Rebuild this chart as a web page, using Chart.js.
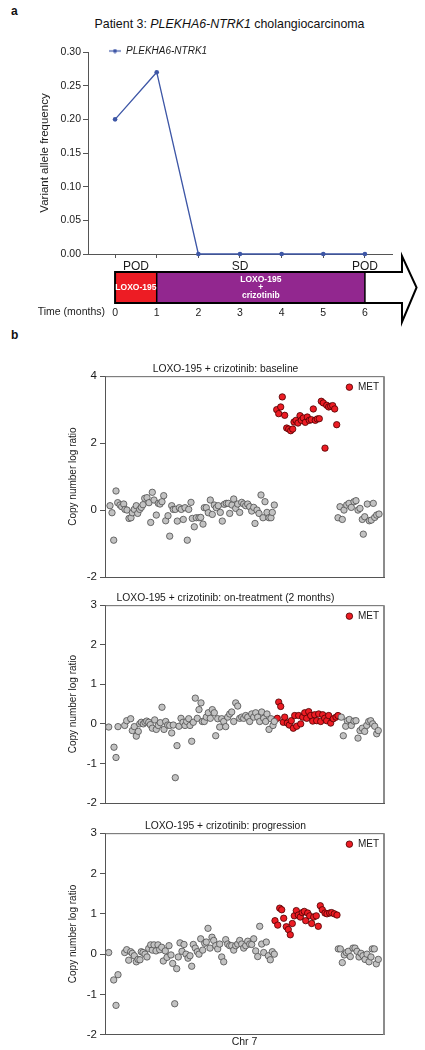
<!DOCTYPE html>
<html><head><meta charset="utf-8">
<script src="https://cdn.jsdelivr.net/npm/chart.js@4.4.1/dist/chart.umd.min.js"></script>
<style>
html,body{margin:0;padding:0;background:#fff;}
body{width:425px;height:1050px;position:relative;overflow:hidden;font-family:'Liberation Sans',Arial,sans-serif;}
canvas{position:absolute;left:0;}
.lbl{position:absolute;white-space:nowrap;color:#111;}
</style></head><body>
<div class="lbl" style="left:11px;top:4.8px;font:bold 12px/12px 'Liberation Sans',Arial,sans-serif;">a</div>
<div class="lbl" style="left:229.5px;top:17.5px;transform:translateX(-50%);font:12.4px/12.4px 'Liberation Sans',Arial,sans-serif;">Patient 3: <i>PLEKHA6-NTRK1</i> cholangiocarcinoma</div>
<div class="lbl" style="left:11px;top:329px;font:bold 12px/12px 'Liberation Sans',Arial,sans-serif;">b</div>
<canvas id="cA" width="425" height="330" style="top:0px"></canvas>
<canvas id="cB1" width="425" height="232" style="top:355px"></canvas>
<canvas id="cB2" width="425" height="229" style="top:584px"></canvas>
<canvas id="cB3" width="425" height="238" style="top:812px"></canvas>
<script>
// ---------- Panel a data ----------
const months = [0,1,2,3,4,5,6];
const vafPLEKHA6 = [0.20,0.27,0,0,0,0,0];
const vafTicks = [0,0.05,0.10,0.15,0.20,0.25,0.30];
const responseLabels = ['POD','SD','POD'];
const responseMonths = [0.5,3,6];
const phaseStart = [0,1];
const phaseEnd = [1,6];
const phaseNames = [['LOXO-195'],['LOXO-195','+','crizotinib']];
const phaseColors = ['#ed1c24','#92278f'];

// ---------- Panel b data (position along chr 7, copy number log ratio) ----------
const blGrayX = [5,7,8.7,11,12.7,15,16.7,18.7,20,22,24,26,27.3,29.3,31.3,32.7,34.7,36.3,38,39.7,42,44,45.7,47.3,49,51.3,53.3,55,57,58.7,60.7,63,64.7,66.7,68.3,70.3,72.3,74.3,76.3,78.3,80,82.3,83.7,86,87.3,89.3,91.3,94,95.7,98,99.3,101.3,103.3,105.3,107.3,109.3,111.3,113.3,115.3,117.3,119.3,121.3,123.3,124.7,127,128.7,130.7,132.7,134.7,136.7,138.7,140.7,142.7,144.7,146.7,148.7,150,152,154,156,158,160,162,164,166,167.3,169.3,233,235,237.3,239,241.7,244,246.3,249,251,253,255,257.3,258.3,259.7,262.3,264.3,266.3,268.3,269.7,271.7,274];
const blGrayY = [0.13,-0.08,-0.9,0.57,0.22,0.15,0.1,0.18,0.02,0,-0.25,-0.23,-0.08,0.02,0.13,-0.1,0.02,0.08,0.16,0.35,0.37,0.22,-0.37,0.53,0.3,-0.15,0.2,0.18,0.25,0.43,-0.32,-0.17,-0.78,0.13,0.02,0.02,-0.33,0.07,0.02,-0.28,0.07,-0.9,0.02,0.23,-0.25,-0.5,-0.23,-0.23,-0.22,-0.42,0.07,0.07,-0.08,0.3,-0.13,0.15,0.07,0.13,-0.07,-0.33,0.17,0.2,0.2,-0.1,0.15,0.33,0.05,0.18,-0.07,0.23,0.18,0.13,0.18,0.1,-0.03,0.08,-0.4,0,-0.1,0.45,-0.23,0.25,-0.07,-0.23,-0.23,-0.07,0.15,-0.23,0.1,-0.28,0,0.15,0.2,0.08,0.25,0.28,0,0.05,-0.28,-0.72,-0.2,0.18,-0.32,-0.3,0.2,-0.22,-0.15,-0.12];
const blMetX = [171.7,173.7,175.7,177.3,179.7,181.7,183.7,185.7,187.7,189,191,193,195,196.3,198.3,200.3,202.3,204.3,206.3,208.3,210.3,212.3,214.3,216.3,218.3,220,221.7,223.7,225.7,227.7,229.7,231.7];
const blMetY = [3.0,2.88,3.08,3.38,2.83,2.45,2.42,2.37,2.42,2.63,2.68,2.6,2.82,2.68,2.75,2.62,2.78,2.68,2.7,3.02,2.68,2.72,2.73,3.25,3.2,1.85,3.13,3.08,3.1,3.12,3.02,2.55];
const blTicks = [-2,0,2,4];

const otGrayX = [3.7,9,11,13,19.7,21.7,25.7,27.3,29.3,31.3,33.3,34.7,36.3,38.3,40,41.7,43.7,45.3,47.3,49.7,51.3,53.3,55.3,57,59,60.7,62.7,64.7,66.7,68.3,70.3,72,74,76,78,80,81.7,83.7,85,86.7,88.3,90.3,92.3,94,96,97.3,99.3,101.3,103.3,105.3,107.3,109.3,110.7,112.7,114.7,116.7,118.7,120.7,122.7,124.7,126.7,128.7,130.7,132.7,134.7,136.7,138.7,140.7,142.7,144.7,146.7,148.7,150.7,152.7,154.7,156.7,158.7,160.7,162,164,166,168,169.3,236.3,238.3,240.7,242.3,244.3,246.3,249,251,253,255,257.3,259.7,261.7,263.7,265.7,267.7,269.7,271.7,273.3];
const otGrayY = [-0.08,-0.59,-0.85,-0.07,-0.04,0.08,0.13,-0.17,-0.07,-0.31,-0.19,0,0.04,0,0.04,0.07,0.04,-0.02,-0.11,0.1,-0.14,-0.04,0.03,0.42,-0.14,0.06,-0.03,-0.04,-0.23,-0.03,-1.36,-0.55,-0.06,0.14,0.04,-0.04,0.06,0.13,-0.04,-0.44,0.04,0.65,0.14,0.36,0.53,0.06,0.06,0.17,0.28,0.14,0.36,0.28,-0.3,0.13,-0.08,0.13,0.06,-0.07,0.17,0.25,0.3,0.06,0.53,0.45,0.14,0.17,0.14,0.21,0.17,0.06,0.25,0.17,0.28,0.17,0.06,0.3,0.14,0.06,0.25,-0.14,0.13,-0.04,0.06,0.17,-0.3,-0.06,0.08,0.11,-0.04,0.07,0.08,-0.36,-0.17,-0.11,-0.19,-0.04,0.06,0.08,0,-0.06,-0.25,-0.17];
const otMetX = [172.3,173.7,175.7,178.3,179.7,182.3,184.3,186.3,188.3,189.7,191.7,193.7,195.7,197.7,199.7,201.7,203.7,205.7,207.7,209.7,211.7,213.7,215.7,217.7,219.7,221.7,223.7,225.7,228.3,231,233];
const otMetY = [0.14,0.55,0.44,0.04,0.17,0.02,-0.03,0.08,-0.11,0.21,-0.06,0.21,0,0.17,0.28,0.14,0.31,0.21,0.07,0.23,0.08,0.25,0.06,0.23,0.14,0.08,0.21,0.02,0.13,0.17,0.21];
const otTicks = [-2,-1,0,1,2,3];

const prGrayX = [3.7,8.7,11,13,19.7,21.7,23.7,25.7,27.3,29.3,31.3,33,35,36.3,38,40,42,43.7,45.7,47.3,49,51,53,54.7,56.7,58.3,60.3,62,64,66,67.7,69.7,71.7,73.3,75,77,79,81,83,85,86.7,88.3,90.3,92.3,94,95.7,97.7,99.7,101.3,103,105,107,108.7,110.7,112.7,114.7,116.7,118.7,120.7,122.7,124.7,126.7,128.7,130.7,132.7,134.7,136.7,138.7,140.7,142.7,144.7,146.7,148.7,150.7,152.7,154.7,156.7,158.7,161.3,163.3,165.3,167.3,169.3,233.3,235.3,237.3,239.3,241.3,243.3,245.3,248,250,252,254,256,258,260,262,264,266,267.3,269.3,271.3,273.3];
const prGrayY = [0.04,-0.64,-1.27,-0.51,0.04,0.11,-0.15,0.06,0.02,-0.04,-0.19,-0.13,-0.14,0.06,0.04,0,-0.07,0.14,0.23,0.1,0.23,0.08,0.23,0.11,0.17,-0.17,0.08,-0.08,0.21,-0.02,-0.23,-1.23,-0.36,-0.07,0.28,0.07,0.24,0,-0.1,-0.04,-0.3,0.24,0.15,0.06,0,0.38,0.1,0.27,0.3,0.64,0.15,0.42,0.34,0.21,0.13,0.25,-0.07,-0.19,0.36,0.25,0.21,0.21,0.1,0.21,0.25,0.34,0.25,0.15,0.21,0.32,0.25,0.24,0.38,0.08,-0.06,0.69,0.25,0.04,0.3,-0.04,-0.14,0.06,0,0.13,0.13,-0.21,-0.02,0.04,0.07,-0.06,0.15,0.15,0.07,-0.07,0.02,-0.04,-0.13,0,-0.19,-0.07,0.13,0.13,-0.24,-0.13];
const prMetX = [170,172.7,174.7,176.7,178.7,181.3,183.3,185.3,187.3,189.3,191.3,193.3,195.3,197.3,199.3,200.7,202.7,204.7,206.7,208.7,211.3,213.3,215.3,217.3,220,222,224.7,226.7,229.3,232];
const prMetY = [0.83,0.72,1.14,1.1,0.89,0.68,0.61,0.48,0.76,0.95,1.08,0.97,0.92,1.03,1.06,0.83,1.02,0.95,0.76,0.92,0.95,0.69,1.2,1.1,1.02,1.0,1.02,1.03,1.0,0.97];
const prTicks = [-2,-1,0,1,2,3];

// ---------- common ----------
const FONT = "'Liberation Sans', Arial, Helvetica, sans-serif";
Chart.defaults.font.family = FONT;
Chart.defaults.color = '#1a1a1a';
Chart.defaults.animation = false;
const BLUE = '#3d56a6';
const AXIS = '#555';

// place the in-plot legend: anchored to left or right of the chart area
const placeLegend = {
  id: 'placeLegend',
  afterLayout(chart, args, opts) {
    const l = chart.legend; if (!l) return;
    const ca = chart.chartArea;
    const pad = l.options.labels.padding || 0;
    const hb = l.legendHitBoxes && l.legendHitBoxes[0];
    const w = hb ? hb.width : 0;
    let left;
    if (opts.anchor === 'right') left = ca.right - opts.dx - w - pad;
    else left = ca.left + opts.dx - pad;
    const top = ca.top + opts.dy - pad;
    l.left = left; l.right = left + w + 2 * pad + 4;
    l.top = top; l.bottom = top + 40;
  }
};

// timeline under the VAF plot
const timelinePlugin = {
  id: 'timeline',
  afterDraw(chart, args, o) {
    const {ctx} = chart; const bottom = chart.chartArea.bottom; const xs = chart.scales.x;
    const top = bottom + 18, bot = bottom + 49, mid = (top + bot) / 2;
    const headTop = bottom + 2, headBot = bottom + 68;
    const x0 = xs.getPixelForValue(phaseStart[0]);
    const bodyEnd = xs.getPixelForValue(o.bodyEnd), tip = xs.getPixelForValue(o.tip);
    ctx.save();
    phaseStart.forEach((s, i) => {
      const a = xs.getPixelForValue(s), b = xs.getPixelForValue(phaseEnd[i]);
      ctx.fillStyle = phaseColors[i];
      ctx.fillRect(a, top, b - a, bot - top);
    });
    ctx.strokeStyle = '#000'; ctx.lineWidth = 2; ctx.lineJoin = 'miter';
    ctx.beginPath();
    ctx.moveTo(x0, top); ctx.lineTo(bodyEnd, top); ctx.lineTo(bodyEnd, headTop);
    ctx.lineTo(tip, mid); ctx.lineTo(bodyEnd, headBot); ctx.lineTo(bodyEnd, bot);
    ctx.lineTo(x0, bot); ctx.closePath(); ctx.stroke();
    ctx.lineWidth = 1.5;
    phaseEnd.forEach(e => {
      const p = xs.getPixelForValue(e);
      ctx.beginPath(); ctx.moveTo(p, top); ctx.lineTo(p, bot); ctx.stroke();
    });
    // phase labels
    ctx.fillStyle = '#fff'; ctx.textAlign = 'center'; ctx.textBaseline = 'middle';
    ctx.font = 'bold 8.5px ' + FONT;
    phaseNames.forEach((lines, i) => {
      const cx = xs.getPixelForValue((phaseStart[i] + phaseEnd[i]) / 2);
      const step = 8.3, y0 = mid - (lines.length - 1) * step / 2;
      lines.forEach((t, j) => ctx.fillText(t, cx, y0 + j * step));
    });
    // response labels
    ctx.fillStyle = '#1a1a1a'; ctx.textBaseline = 'alphabetic';
    ctx.font = '12px ' + FONT;
    responseLabels.forEach((t, i) => ctx.fillText(t, xs.getPixelForValue(responseMonths[i]), bottom + 16));
    // time label
    ctx.font = '10.5px ' + FONT; ctx.textAlign = 'right';
    ctx.fillText('Time (months)', 105, bottom + 60.5);
    ctx.restore();
  }
};

const lineMark = document.createElement('canvas');
lineMark.width = 12; lineMark.height = 5;
{ const c = lineMark.getContext('2d'); c.strokeStyle = BLUE; c.lineWidth = 1.2; c.beginPath(); c.moveTo(0, 2.5); c.lineTo(12, 2.5); c.stroke(); c.fillStyle = BLUE; c.beginPath(); c.arc(6, 2.5, 2, 0, Math.PI * 2); c.fill(); }

new Chart(document.getElementById('cA'), {
  type: 'line',
  data: { datasets: [{
    label: 'PLEKHA6-NTRK1',
    data: months.map((m, i) => ({x: m, y: vafPLEKHA6[i]})),
    borderColor: BLUE, backgroundColor: BLUE, borderWidth: 1.3,
    pointRadius: 2.3, pointBackgroundColor: BLUE, pointBorderWidth: 0, pointHoverRadius: 2.3,
    tension: 0, clip: false
  }]},
  options: {
    responsive: false, animation: false, events: [],
    layout: { padding: { top: 52, left: 38, right: 33, bottom: 0 } },
    plugins: {
      legend: { position: 'chartArea', align: 'start',
        labels: { usePointStyle: true, pointStyle: lineMark, pointStyleWidth: 12, padding: 0,
          font: { size: 10, style: 'italic' }, color: '#1a1a1a' } },
      placeLegend: { anchor: 'left', dx: 21, dy: -6 },
      tooltip: { enabled: false },
      timeline: { bodyEnd: 6.89, tip: 7.24 }
    },
    scales: {
      x: { type: 'linear', min: -0.65, max: 6.65,
        afterBuildTicks: s => { s.ticks = months.map(v => ({value: v})); },
        afterFit: s => { s.height = 76; },
        grid: { display: true, drawOnChartArea: false, drawTicks: true, tickLength: 4, color: AXIS },
        border: { display: true, color: AXIS, width: 1 },
        ticks: { padding: 48.5, font: { size: 10.5 }, color: '#1a1a1a' } },
      y: { min: 0, max: 0.30,
        afterBuildTicks: s => { s.ticks = vafTicks.map(v => ({value: v})); },
        afterFit: s => { s.width = 50; },
        grid: { drawOnChartArea: false, tickLength: 5, color: AXIS },
        border: { color: AXIS, width: 1 },
        ticks: { padding: 2, font: { size: 10.5 }, color: '#1a1a1a', callback: v => Number(v).toFixed(2) },
        title: { display: true, text: 'Variant allele frequency', font: { size: 11.5 }, padding: 0, color: '#1a1a1a' } }
    }
  },
  plugins: [placeLegend, timelinePlugin]
});

// ---------- copy number panels ----------
const framePlugin = {
  id: 'frame',
  afterDatasetsDraw(chart) {
    const {ctx, chartArea: a} = chart;
    ctx.save();
    ctx.strokeStyle = '#666'; ctx.lineWidth = 1;
    ctx.beginPath(); ctx.moveTo(a.left, a.top + 0.5); ctx.lineTo(a.right, a.top + 0.5); ctx.stroke();
    ctx.strokeStyle = '#8c8c8c'; ctx.lineWidth = 2;
    ctx.beginPath(); ctx.moveTo(a.right, a.top); ctx.lineTo(a.right, a.bottom); ctx.stroke();
    ctx.restore();
  }
};

function cnChart(id, title, gx, gy, mx, my, ticks, padBottom, xTitle) {
  const pts = (xs, ys) => xs.map((x, i) => ({x, y: ys[i]}));
  return new Chart(document.getElementById(id), {
    type: 'scatter',
    data: { datasets: [
      { label: 'other', data: pts(gx, gy), backgroundColor: '#c2c2c2', borderColor: '#4d4d4d',
        borderWidth: 0.8, pointRadius: 3.2, clip: false },
      { label: 'MET', data: pts(mx, my), backgroundColor: '#ec1c24', borderColor: '#4a0000',
        borderWidth: 0.8, pointRadius: 3.2, clip: false }
    ]},
    options: {
      responsive: false, animation: false, events: [],
      layout: { padding: { top: 7.8, left: 67, right: 41, bottom: padBottom } },
      plugins: {
        title: { display: true, text: title, font: { size: 10.3, weight: 'normal' }, padding: { top: 0, bottom: 1 }, color: '#1a1a1a' },
        legend: { position: 'chartArea', align: 'start',
          labels: { usePointStyle: true, pointStyle: 'circle', boxWidth: 7, boxHeight: 4.6, padding: 5,
            font: { size: 10 }, color: '#1a1a1a', filter: it => it.datasetIndex === 1 } },
        placeLegend: { anchor: 'right', dx: 5, dy: 6 },
        tooltip: { enabled: false }
      },
      scales: {
        x: { type: 'linear', min: 0, max: 279,
          ticks: { display: false },
          grid: { display: false, drawTicks: false },
          border: { display: true, color: AXIS, width: 1 },
          title: { display: !!xTitle, text: xTitle || '', font: { size: 10.5 }, padding: { top: 1, bottom: 0 }, color: '#1a1a1a' } },
        y: { min: ticks[0], max: ticks[ticks.length - 1],
          afterBuildTicks: s => { s.ticks = ticks.map(v => ({value: v})); },
          afterFit: s => { s.width = 38; },
          grid: { drawOnChartArea: false, tickLength: 5, color: AXIS },
          border: { color: AXIS, width: 1 },
          ticks: { padding: 3, font: { size: 11.5 }, color: '#1a1a1a' },
          title: { display: true, text: 'Copy number log ratio', font: { size: 10 }, padding: 0, color: '#1a1a1a' } }
      }
    },
    plugins: [placeLegend, framePlugin]
  });
}

cnChart('cB1', 'LOXO-195 + crizotinib: baseline', blGrayX, blGrayY, blMetX, blMetY, blTicks, 10, null);
cnChart('cB2', 'LOXO-195 + crizotinib: on-treatment (2 months)', otGrayX, otGrayY, otMetX, otMetY, otTicks, 10, null);
cnChart('cB3', 'LOXO-195 + crizotinib: progression', prGrayX, prGrayY, prMetX, prMetY, prTicks, 1.6, 'Chr 7');
</script>
</body></html>
